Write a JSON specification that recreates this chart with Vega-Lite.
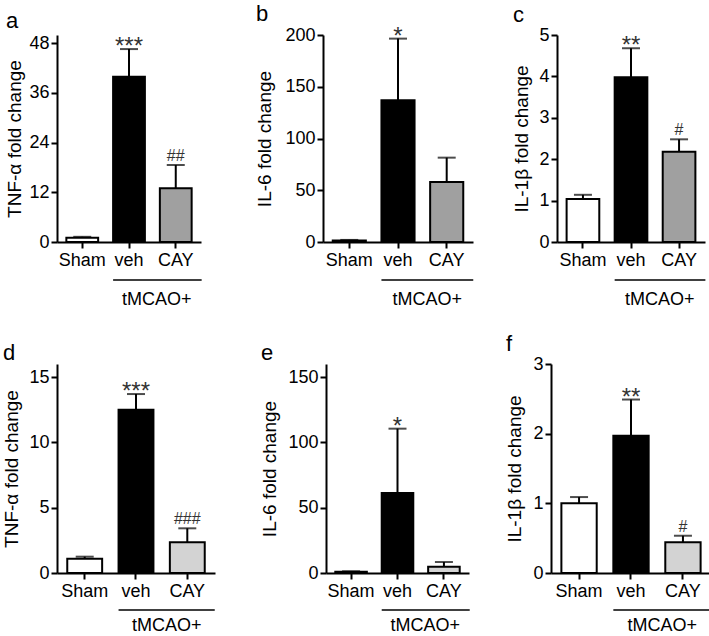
{
  "$schema": "https://vega.github.io/schema/vega-lite/v6.json",
  "padding": {"left": 2, "top": 2, "right": 0, "bottom": 0},
  "config": {
    "font": "Liberation Sans",
    "view": {"stroke": null},
    "axis": {"grid": false, "domainColor": "black", "domainWidth": 2, "tickColor": "black", "tickWidth": 2, "tickSize": 6, "labelColor": "black", "labelFontSize": 18, "labelFont": "Liberation Sans", "titleFont": "Liberation Sans", "titleFontWeight": "normal", "titleColor": "black", "titleFontSize": 19},
    "axisY": {"labelPadding": 2, "labelFlush": false, "format": ".0f"},
    "axisX": {"labelPadding": 3, "labelAngle": 0, "title": null},
    "title": {"font": "Liberation Sans", "fontSize": 22, "fontWeight": "normal", "anchor": "start", "frame": "bounds", "offset": -1, "color": "black"},
    "text": {"font": "Liberation Sans"}
  },
  "resolve": {"scale": {"fill": "independent"}},
  "spacing": 24,
  "vconcat": [
    {
      "spacing": 52,
      "resolve": {"scale": {"fill": "independent"}},
      "hconcat": [
        {
          "width": 144, "height": 207,
          "title": "a",
          "data": {"values": [
            {"group": "Sham", "value": 1.0, "upper": 1.25, "star": "", "hash": ""},
            {"group": "veh", "value": 39.9, "upper": 46.6, "star": "***", "hash": ""},
            {"group": "CAY", "value": 13.0, "upper": 18.6, "star": "", "hash": "##"}
          ]},
          "encoding": {"x": {"field": "group", "type": "nominal", "sort": ["Sham", "veh", "CAY"], "scale": {"paddingInner": 0.32, "paddingOuter": 0.2}}},
          "layer": [
            {"mark": {"type": "bar", "stroke": "black", "strokeWidth": 2},
             "encoding": {"y": {"field": "value", "type": "quantitative", "scale": {"domain": [0, 48]}, "axis": {"values": [0, 12, 24, 36, 48], "title": "TNF-α fold change", "titlePadding": 4}},
               "fill": {"field": "group", "type": "nominal", "scale": {"domain": ["Sham", "veh", "CAY"], "range": ["white", "black", "#a0a0a0"]}, "legend": null}}},
            {"mark": {"type": "rule", "strokeWidth": 2, "color": "black"}, "encoding": {"y": {"field": "value", "type": "quantitative"}, "y2": {"field": "upper"}}},
            {"mark": {"type": "tick", "thickness": 2, "size": 18, "color": "black"}, "encoding": {"y": {"field": "upper", "type": "quantitative"}}},
            {"mark": {"type": "text", "fontSize": 24, "color": "#333", "baseline": "alphabetic", "dy": 5}, "encoding": {"y": {"field": "upper", "type": "quantitative"}, "text": {"field": "star"}}},
            {"mark": {"type": "text", "fontSize": 16, "color": "#333", "baseline": "alphabetic", "dy": -4}, "encoding": {"y": {"field": "upper", "type": "quantitative"}, "text": {"field": "hash"}}},
            {"data": {"values": [{"label": "tMCAO+"}]},
             "layer": [
               {"mark": {"type": "rule", "strokeWidth": 1.5, "color": "black", "yOffset": 38, "x2Offset": 10}, "encoding": {"x": {"datum": "veh", "bandPosition": 0}, "x2": {"datum": "CAY", "bandPosition": 1}, "y": {"datum": 0}}},
               {"mark": {"type": "text", "fontSize": 18, "color": "black", "yOffset": 58, "dx": -3, "baseline": "middle"}, "encoding": {"x": {"datum": "CAY", "bandPosition": 0}, "y": {"datum": 0}, "text": {"field": "label"}}}
             ]}
          ]
        },
        {
          "spacing": 37,
          "resolve": {"scale": {"fill": "independent"}},
          "hconcat": [
            {
              "width": 150, "height": 207,
              "title": "b",
              "data": {"values": [
                {"group": "Sham", "value": 1.5, "upper": 2.0, "star": "", "hash": ""},
                {"group": "veh", "value": 137, "upper": 196.5, "star": "*", "hash": ""},
                {"group": "CAY", "value": 58, "upper": 81.5, "star": "", "hash": ""}
              ]},
              "encoding": {"x": {"field": "group", "type": "nominal", "sort": ["Sham", "veh", "CAY"], "scale": {"paddingInner": 0.32, "paddingOuter": 0.2}}},
              "layer": [
                {"mark": {"type": "bar", "stroke": "black", "strokeWidth": 2},
                 "encoding": {"y": {"field": "value", "type": "quantitative", "scale": {"domain": [0, 200]}, "axis": {"values": [0, 50, 100, 150, 200], "title": "IL-6 fold change", "titlePadding": 10}},
                   "fill": {"field": "group", "type": "nominal", "scale": {"domain": ["Sham", "veh", "CAY"], "range": ["white", "black", "#a0a0a0"]}, "legend": null}}},
                {"mark": {"type": "rule", "strokeWidth": 2, "color": "black"}, "encoding": {"y": {"field": "value", "type": "quantitative"}, "y2": {"field": "upper"}}},
                {"mark": {"type": "tick", "thickness": 2, "size": 18, "color": "black"}, "encoding": {"y": {"field": "upper", "type": "quantitative"}}},
                {"mark": {"type": "text", "fontSize": 24, "color": "#333", "baseline": "alphabetic", "dy": 5}, "encoding": {"y": {"field": "upper", "type": "quantitative"}, "text": {"field": "star"}}},
                {"data": {"values": [{"label": "tMCAO+"}]},
                 "layer": [
                   {"mark": {"type": "rule", "strokeWidth": 1.5, "color": "black", "yOffset": 38, "x2Offset": 10}, "encoding": {"x": {"datum": "veh", "bandPosition": 0}, "x2": {"datum": "CAY", "bandPosition": 1}, "y": {"datum": 0}}},
                   {"mark": {"type": "text", "fontSize": 18, "color": "black", "yOffset": 58, "dx": -3, "baseline": "middle"}, "encoding": {"x": {"datum": "CAY", "bandPosition": 0}, "y": {"datum": 0}, "text": {"field": "label"}}}
                 ]}
              ]
            },
            {
              "width": 148, "height": 207,
              "title": "c",
              "data": {"values": [
                {"group": "Sham", "value": 1.04, "upper": 1.14, "star": "", "hash": ""},
                {"group": "veh", "value": 3.98, "upper": 4.68, "star": "**", "hash": ""},
                {"group": "CAY", "value": 2.18, "upper": 2.48, "star": "", "hash": "#"}
              ]},
              "encoding": {"x": {"field": "group", "type": "nominal", "sort": ["Sham", "veh", "CAY"], "scale": {"paddingInner": 0.32, "paddingOuter": 0.2}}},
              "layer": [
                {"mark": {"type": "bar", "stroke": "black", "strokeWidth": 2},
                 "encoding": {"y": {"field": "value", "type": "quantitative", "scale": {"domain": [0, 5]}, "axis": {"values": [0, 1, 2, 3, 4, 5], "title": "IL-1β fold change", "titlePadding": 7}},
                   "fill": {"field": "group", "type": "nominal", "scale": {"domain": ["Sham", "veh", "CAY"], "range": ["white", "black", "#a0a0a0"]}, "legend": null}}},
                {"mark": {"type": "rule", "strokeWidth": 2, "color": "black"}, "encoding": {"y": {"field": "value", "type": "quantitative"}, "y2": {"field": "upper"}}},
                {"mark": {"type": "tick", "thickness": 2, "size": 18, "color": "black"}, "encoding": {"y": {"field": "upper", "type": "quantitative"}}},
                {"mark": {"type": "text", "fontSize": 24, "color": "#333", "baseline": "alphabetic", "dy": 5}, "encoding": {"y": {"field": "upper", "type": "quantitative"}, "text": {"field": "star"}}},
                {"mark": {"type": "text", "fontSize": 16, "color": "#333", "baseline": "alphabetic", "dy": -4}, "encoding": {"y": {"field": "upper", "type": "quantitative"}, "text": {"field": "hash"}}},
                {"data": {"values": [{"label": "tMCAO+"}]},
                 "layer": [
                   {"mark": {"type": "rule", "strokeWidth": 1.5, "color": "black", "yOffset": 38, "x2Offset": 10}, "encoding": {"x": {"datum": "veh", "bandPosition": 0}, "x2": {"datum": "CAY", "bandPosition": 1}, "y": {"datum": 0}}},
                   {"mark": {"type": "text", "fontSize": 18, "color": "black", "yOffset": 58, "dx": -3, "baseline": "middle"}, "encoding": {"x": {"datum": "CAY", "bandPosition": 0}, "y": {"datum": 0}, "text": {"field": "label"}}}
                 ]}
              ]
            }
          ]
        }
      ]
    },
    {
      "spacing": 44,
      "resolve": {"scale": {"fill": "independent"}},
      "hconcat": [
        {
          "width": 158, "height": 209,
          "title": "d",
          "data": {"values": [
            {"group": "Sham", "value": 1.1, "upper": 1.25, "star": "", "hash": ""},
            {"group": "veh", "value": 12.5, "upper": 13.7, "star": "***", "hash": ""},
            {"group": "CAY", "value": 2.35, "upper": 3.42, "star": "", "hash": "###"}
          ]},
          "encoding": {"x": {"field": "group", "type": "nominal", "sort": ["Sham", "veh", "CAY"], "scale": {"paddingInner": 0.32, "paddingOuter": 0.2}}},
          "layer": [
            {"mark": {"type": "bar", "stroke": "black", "strokeWidth": 2},
             "encoding": {"y": {"field": "value", "type": "quantitative", "scale": {"domain": [0, 15]}, "axis": {"values": [0, 5, 10, 15], "title": "TNF-α fold change", "titlePadding": 7}},
               "fill": {"field": "group", "type": "nominal", "scale": {"domain": ["Sham", "veh", "CAY"], "range": ["white", "black", "#d3d3d3"]}, "legend": null}}},
            {"mark": {"type": "rule", "strokeWidth": 2, "color": "black"}, "encoding": {"y": {"field": "value", "type": "quantitative"}, "y2": {"field": "upper"}}},
            {"mark": {"type": "tick", "thickness": 2, "size": 18, "color": "black"}, "encoding": {"y": {"field": "upper", "type": "quantitative"}}},
            {"mark": {"type": "text", "fontSize": 24, "color": "#333", "baseline": "alphabetic", "dy": 5}, "encoding": {"y": {"field": "upper", "type": "quantitative"}, "text": {"field": "star"}}},
            {"mark": {"type": "text", "fontSize": 16, "color": "#333", "baseline": "alphabetic", "dy": -4}, "encoding": {"y": {"field": "upper", "type": "quantitative"}, "text": {"field": "hash"}}},
            {"data": {"values": [{"label": "tMCAO+"}]},
             "layer": [
               {"mark": {"type": "rule", "strokeWidth": 1.5, "color": "black", "yOffset": 37, "x2Offset": 10}, "encoding": {"x": {"datum": "veh", "bandPosition": 0}, "x2": {"datum": "CAY", "bandPosition": 1}, "y": {"datum": 0}}},
               {"mark": {"type": "text", "fontSize": 18, "color": "black", "yOffset": 53, "dx": -3, "baseline": "middle"}, "encoding": {"x": {"datum": "CAY", "bandPosition": 0}, "y": {"datum": 0}, "text": {"field": "label"}}}
             ]}
          ]
        },
        {
          "spacing": 34,
          "resolve": {"scale": {"fill": "independent"}},
          "hconcat": [
            {
              "width": 143, "height": 209,
              "title": "e",
              "data": {"values": [
                {"group": "Sham", "value": 1.0, "upper": 1.3, "star": "", "hash": ""},
                {"group": "veh", "value": 61.3, "upper": 110.5, "star": "*", "hash": ""},
                {"group": "CAY", "value": 4.8, "upper": 8.4, "star": "", "hash": ""}
              ]},
              "encoding": {"x": {"field": "group", "type": "nominal", "sort": ["Sham", "veh", "CAY"], "scale": {"paddingInner": 0.32, "paddingOuter": 0.2}}},
              "layer": [
                {"mark": {"type": "bar", "stroke": "black", "strokeWidth": 2},
                 "encoding": {"y": {"field": "value", "type": "quantitative", "scale": {"domain": [0, 150]}, "axis": {"values": [0, 50, 100, 150], "title": "IL-6 fold change", "titlePadding": 8}},
                   "fill": {"field": "group", "type": "nominal", "scale": {"domain": ["Sham", "veh", "CAY"], "range": ["white", "black", "#d3d3d3"]}, "legend": null}}},
                {"mark": {"type": "rule", "strokeWidth": 2, "color": "black"}, "encoding": {"y": {"field": "value", "type": "quantitative"}, "y2": {"field": "upper"}}},
                {"mark": {"type": "tick", "thickness": 2, "size": 18, "color": "black"}, "encoding": {"y": {"field": "upper", "type": "quantitative"}}},
                {"mark": {"type": "text", "fontSize": 24, "color": "#333", "baseline": "alphabetic", "dy": 5}, "encoding": {"y": {"field": "upper", "type": "quantitative"}, "text": {"field": "star"}}},
                {"data": {"values": [{"label": "tMCAO+"}]},
                 "layer": [
                   {"mark": {"type": "rule", "strokeWidth": 1.5, "color": "black", "yOffset": 37, "x2Offset": 10}, "encoding": {"x": {"datum": "veh", "bandPosition": 0}, "x2": {"datum": "CAY", "bandPosition": 1}, "y": {"datum": 0}}},
                   {"mark": {"type": "text", "fontSize": 18, "color": "black", "yOffset": 53, "dx": -3, "baseline": "middle"}, "encoding": {"x": {"datum": "CAY", "bandPosition": 0}, "y": {"datum": 0}, "text": {"field": "label"}}}
                 ]}
              ]
            },
            {
              "width": 160, "height": 209,
              "title": "f",
              "data": {"values": [
                {"group": "Sham", "value": 1.0, "upper": 1.09, "star": "", "hash": ""},
                {"group": "veh", "value": 1.97, "upper": 2.49, "star": "**", "hash": ""},
                {"group": "CAY", "value": 0.44, "upper": 0.535, "star": "", "hash": "#"}
              ]},
              "encoding": {"x": {"field": "group", "type": "nominal", "sort": ["Sham", "veh", "CAY"], "scale": {"paddingInner": 0.32, "paddingOuter": 0.2}}},
              "layer": [
                {"mark": {"type": "bar", "stroke": "black", "strokeWidth": 2},
                 "encoding": {"y": {"field": "value", "type": "quantitative", "scale": {"domain": [0, 3]}, "axis": {"values": [0, 1, 2, 3], "title": "IL-1β fold change", "titlePadding": 8}},
                   "fill": {"field": "group", "type": "nominal", "scale": {"domain": ["Sham", "veh", "CAY"], "range": ["white", "black", "#d3d3d3"]}, "legend": null}}},
                {"mark": {"type": "rule", "strokeWidth": 2, "color": "black"}, "encoding": {"y": {"field": "value", "type": "quantitative"}, "y2": {"field": "upper"}}},
                {"mark": {"type": "tick", "thickness": 2, "size": 18, "color": "black"}, "encoding": {"y": {"field": "upper", "type": "quantitative"}}},
                {"mark": {"type": "text", "fontSize": 24, "color": "#333", "baseline": "alphabetic", "dy": 5}, "encoding": {"y": {"field": "upper", "type": "quantitative"}, "text": {"field": "star"}}},
                {"mark": {"type": "text", "fontSize": 16, "color": "#333", "baseline": "alphabetic", "dy": -4}, "encoding": {"y": {"field": "upper", "type": "quantitative"}, "text": {"field": "hash"}}},
                {"data": {"values": [{"label": "tMCAO+"}]},
                 "layer": [
                   {"mark": {"type": "rule", "strokeWidth": 1.5, "color": "black", "yOffset": 37, "x2Offset": 10}, "encoding": {"x": {"datum": "veh", "bandPosition": 0}, "x2": {"datum": "CAY", "bandPosition": 1}, "y": {"datum": 0}}},
                   {"mark": {"type": "text", "fontSize": 18, "color": "black", "yOffset": 53, "dx": -3, "baseline": "middle"}, "encoding": {"x": {"datum": "CAY", "bandPosition": 0}, "y": {"datum": 0}, "text": {"field": "label"}}}
                 ]}
              ]
            }
          ]
        }
      ]
    }
  ]
}
